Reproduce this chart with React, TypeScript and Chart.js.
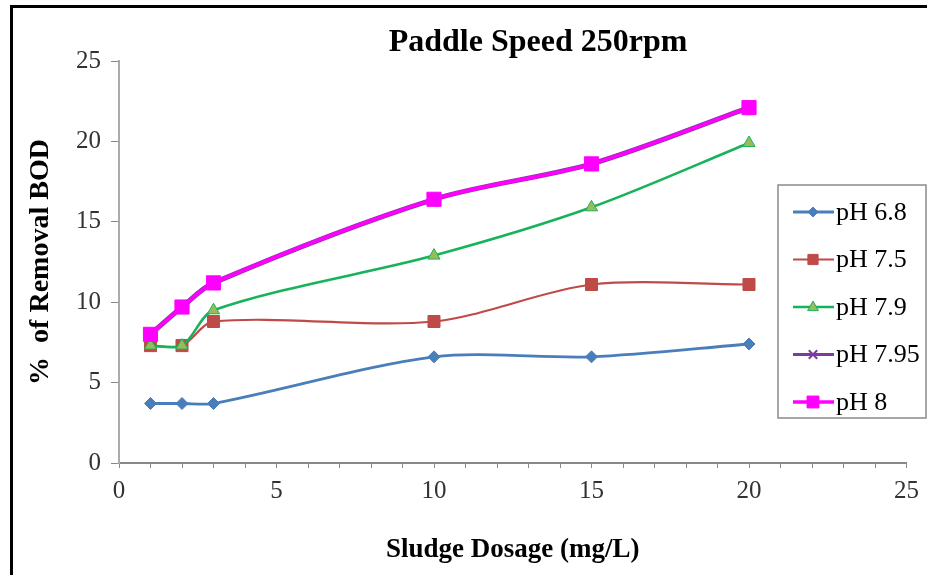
import React, { useEffect, useRef } from "react";
import { Chart, registerables } from "chart.js";

Chart.register(...registerables);

const dosage = [1, 2, 3, 10, 15, 20];
const ph68 = [3.7, 3.7, 3.7, 6.6, 6.6, 7.4];
const ph75 = [7.3, 7.3, 8.8, 8.8, 11.1, 11.1];
const ph79 = [7.3, 7.3, 9.5, 12.9, 15.9, 19.9];
const ph795 = [8.0, 9.7, 11.2, 16.4, 18.6, 22.1];
const ph8 = [8.0, 9.7, 11.2, 16.4, 18.6, 22.1];
const seriesNames = ["pH 6.8", "pH 7.5", "pH 7.9", "pH 7.95", "pH 8"];
const titleText = "Paddle Speed 250rpm";
const xTitle = "Sludge Dosage (mg/L)";
const yTitle = "%  of Removal BOD";

const SERIF = "'Liberation Serif', 'Times New Roman', serif";

const toPts = (ys: number[]) => dosage.map((x, i) => ({ x, y: ys[i] }));

const styles = [
  { color: "#4A7EBB", fill: "#4A7EBB", style: "rectRot", r: 6, w: 2.8, order: 1 },
  { color: "#BE4B48", fill: "#BE4B48", style: "rect", r: 8.5, w: 2.2, order: 1.2 },
  { color: "#16B35A", fill: "#9BBB59", style: "triangle", r: 7, w: 2.6, order: 1.1 },
  { color: "#7D3C9C", fill: "#7D3C9C", style: "crossRot", r: 7, w: 5, order: 2 },
  { color: "#FF00FF", fill: "#FF00FF", style: "rect", r: 10, w: 3.6, order: 0 },
];

function drawMarker(ctx: CanvasRenderingContext2D, style: string, x: number, y: number, r: number, fill: string, stroke: string) {
  ctx.save();
  ctx.fillStyle = fill;
  ctx.strokeStyle = stroke;
  ctx.lineWidth = 1;
  ctx.beginPath();
  if (style === "rect") {
    ctx.rect(x - r * 0.85, y - r * 0.85, r * 1.7, r * 1.7);
    ctx.fill();
    ctx.stroke();
  } else if (style === "rectRot") {
    ctx.moveTo(x, y - r);
    ctx.lineTo(x + r, y);
    ctx.lineTo(x, y + r);
    ctx.lineTo(x - r, y);
    ctx.closePath();
    ctx.fill();
    ctx.stroke();
  } else if (style === "triangle") {
    ctx.moveTo(x, y - r);
    ctx.lineTo(x + r * 0.9, y + r * 0.6);
    ctx.lineTo(x - r * 0.9, y + r * 0.6);
    ctx.closePath();
    ctx.fill();
    ctx.stroke();
  } else if (style === "crossRot") {
    ctx.lineWidth = 2;
    const d = r * 0.7;
    ctx.moveTo(x - d, y - d);
    ctx.lineTo(x + d, y + d);
    ctx.moveTo(x + d, y - d);
    ctx.lineTo(x - d, y + d);
    ctx.stroke();
  }
  ctx.restore();
}

const legendR = [5, 6, 6, 6, 7];

const decorPlugin = {
  id: "decor",
  afterDraw(chart: any) {
    const ctx = chart.ctx;
    ctx.save();
    // frame
    ctx.fillStyle = "#000";
    ctx.fillRect(10, 5, 917, 3);
    ctx.fillRect(10, 5, 3, 570);
    // title
    ctx.font = `bold 32px ${SERIF}`;
    ctx.textAlign = "center";
    ctx.textBaseline = "middle";
    ctx.fillStyle = "#000";
    ctx.fillText(titleText, 538, 43);
    // legend
    const lx = 778, ly = 185, lw = 148, lh = 233;
    ctx.fillStyle = "#fff";
    ctx.fillRect(lx, ly, lw, lh);
    ctx.strokeStyle = "#8a8a8a";
    ctx.lineWidth = 1.5;
    ctx.strokeRect(lx, ly, lw, lh);
    chart.data.datasets.forEach((ds: any, i: number) => {
      const y = 212 + i * 47.5;
      const st = styles[i];
      ctx.strokeStyle = st.color;
      ctx.lineWidth = i === 4 ? 3.6 : i === 3 ? 3 : st.w;
      ctx.beginPath();
      ctx.moveTo(793, y);
      ctx.lineTo(834, y);
      ctx.stroke();
      drawMarker(ctx, st.style, 813, y, legendR[i], st.fill, st.color);
      ctx.fillStyle = "#000";
      ctx.font = `26px ${SERIF}`;
      ctx.textAlign = "left";
      ctx.textBaseline = "middle";
      ctx.fillText(ds.label, 836, y + 1);
    });
    ctx.restore();
  },
};

export default function App() {
  const ref = useRef<HTMLCanvasElement>(null);
  useEffect(() => {
    if (!ref.current) return;
    const all = [ph68, ph75, ph79, ph795, ph8];
    const chart = new Chart(ref.current, {
      type: "line",
      data: {
        datasets: all.map((d, i) => ({
          label: seriesNames[i],
          data: toPts(d),
          order: styles[i].order,
          borderColor: styles[i].color,
          backgroundColor: styles[i].fill,
          pointBackgroundColor: styles[i].fill,
          pointBorderColor: styles[i].color,
          pointBorderWidth: styles[i].style === "crossRot" ? 2 : 1,
          pointStyle: styles[i].style as any,
          pointRadius: styles[i].r,
          borderWidth: styles[i].w,
          tension: 0.3,
          fill: false,
        })),
      },
      options: {
        animation: false,
        responsive: false,
        devicePixelRatio: 1,
        layout: { padding: { left: 0, top: 61, right: 15, bottom: 0 } },
        plugins: {
          legend: { display: false },
          title: { display: false },
          tooltip: { enabled: false },
        },
        scales: {
          x: {
            type: "linear",
            min: 0,
            max: 25,
            afterFit: (s: any) => { s.height = 112; },
            ticks: {
              stepSize: 1,
              autoSkip: false,
              maxRotation: 0,
              padding: 8,
              color: "#333",
              font: { family: SERIF, size: 25 },
              callback: (v: any) => (Number(v) % 5 === 0 ? String(v) : ""),
            },
            grid: { drawOnChartArea: false, drawTicks: true, tickLength: 5, color: "#888" },
            border: { color: "#888", width: 2 },
            title: {
              display: true,
              text: xTitle,
              color: "#000",
              font: { family: SERIF, size: 27, weight: "bold" },
              padding: { top: 0, bottom: 9 },
            },
          },
          y: {
            min: 0,
            max: 25,
            afterFit: (s: any) => { s.width = 119; },
            ticks: {
              stepSize: 5,
              padding: 10,
              color: "#333",
              font: { family: SERIF, size: 25 },
            },
            grid: { drawOnChartArea: false, drawTicks: true, tickLength: 8, color: "#888" },
            border: { color: "#aaa", width: 2 },
            title: {
              display: true,
              text: yTitle,
              color: "#000",
              font: { family: SERIF, size: 28, weight: "bold" },
              padding: { top: 24, bottom: 0 },
            },
          },
        },
      },
      plugins: [decorPlugin],
    });
    return () => chart.destroy();
  }, []);
  return (
    <div style={{ position: "absolute", left: 0, top: 0, width: 927, height: 575, background: "#fff" }}>
      <canvas ref={ref} width={927} height={575} style={{ width: 927, height: 575, display: "block" }} />
    </div>
  );
}
